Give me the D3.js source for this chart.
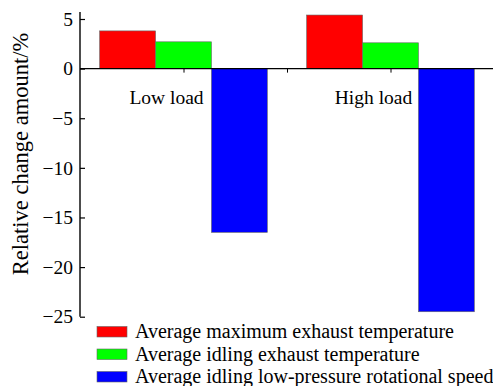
<!DOCTYPE html>
<html>
<head>
<meta charset="utf-8">
<script src="https://cdn.jsdelivr.net/npm/d3@7"></script>
<style>
  html, body { margin: 0; padding: 0; background: #fff; }
  svg { display: block; }
</style>
</head>
<body>
<svg id="chart" width="493" height="386"></svg>
<script>
// Load conditions and the relative change of each indicator (%)
const categories = ["Low load", "High load"];
const seriesNames = [
  "Average maximum exhaust temperature",
  "Average idling exhaust temperature",
  "Average idling low-pressure rotational speed"
];
const seriesColors = ["#ff0000", "#00ff00", "#0000ff"];
const maxExhaustTemp = [3.8, 5.4];
const idleExhaustTemp = [2.7, 2.6];
const idleLowPressureSpeed = [-16.5, -24.5];
const yTicks = [5, 0, -5, -10, -15, -20, -25];
const xTicks = [1, 1.5, 2];

const seriesValues = [maxExhaustTemp, idleExhaustTemp, idleLowPressureSpeed];
const FONT = "'Liberation Serif', 'Times New Roman', serif";

const svg = d3.select("#chart");
const axisX = 80;

const x = d3.scaleLinear().domain([0.5, 2.5]).range([axisX, 494]);
const y = d3.scaleLinear().domain([-25, 5]).range([316.7, 19]);
const barW = x(0.77) - x(0.5);

// Bars
seriesValues.forEach((vals, si) => {
  svg.append("g").selectAll("rect")
    .data(vals)
    .join("rect")
    .attr("x", (d, ci) => x(ci + 1) + (si - 1) * barW - barW / 2)
    .attr("width", barW)
    .attr("y", d => Math.min(y(d), y(0)))
    .attr("height", d => Math.abs(y(d) - y(0)))
    .attr("fill", seriesColors[si])
    .attr("stroke", "#666")
    .attr("stroke-width", 0.6);
});

// Zero line with category ticks
const zeroAxis = d3.axisBottom(x).tickValues(xTicks).tickSize(4).tickFormat("");
const gz = svg.append("g").attr("transform", `translate(0,${y(0)})`).call(zeroAxis);
gz.select(".domain").attr("d", `M${axisX},0H493`).attr("stroke", "#000").attr("stroke-width", 1.2);
gz.selectAll(".tick line").attr("stroke", "#000").attr("stroke-width", 1);

// Category labels with a white backing
categories.forEach((c, ci) => {
  const cx = x(ci + 1) - 17;
  const t = svg.append("text")
    .attr("x", cx).attr("y", 103.5)
    .attr("text-anchor", "middle")
    .style("font-family", FONT)
    .style("font-size", "19.5px")
    .attr("fill", "#000")
    .text(c);
  const bb = t.node().getBBox();
  svg.insert("rect", () => t.node())
    .attr("x", bb.x - 2).attr("y", bb.y - 1)
    .attr("width", bb.width + 4).attr("height", bb.height + 2)
    .attr("fill", "#fff");
});

// Y axis with inward ticks
const yAxis = d3.axisRight(y).tickValues(yTicks).tickSize(5).tickFormat(d => d < 0 ? "\u2212" + Math.abs(d) : d);
const gy = svg.append("g").attr("transform", `translate(${axisX},0)`).call(yAxis);
gy.select(".domain").attr("d", `M0,12V${y(-25)}`).attr("stroke", "#000").attr("stroke-width", 1.4);
gy.selectAll(".tick line").attr("stroke", "#000").attr("stroke-width", 1.2);
gy.selectAll(".tick text")
  .attr("x", -7).attr("text-anchor", "end")
  .style("font-family", FONT)
  .style("font-size", "19.5px")
  .attr("fill", "#000");

// Y axis title
svg.append("text")
  .attr("transform", `translate(28,154) rotate(-90)`)
  .attr("text-anchor", "middle")
  .style("font-family", FONT)
  .style("font-size", "22.5px")
  .attr("fill", "#000")
  .text("Relative change amount/%");

// Legend
const legend = svg.append("g");
seriesNames.forEach((name, i) => {
  const ly = 331.5 + i * 22.5;
  legend.append("rect")
    .attr("x", 97).attr("y", ly - 5)
    .attr("width", 30).attr("height", 10.5)
    .attr("fill", seriesColors[i])
    .attr("stroke", "#666").attr("stroke-width", 0.6);
  legend.append("text")
    .attr("x", 135).attr("y", ly + 6.5)
    .style("font-family", FONT)
    .style("font-size", "20px")
    .attr("fill", "#000")
    .text(name);
});
</script>
</body>
</html>
